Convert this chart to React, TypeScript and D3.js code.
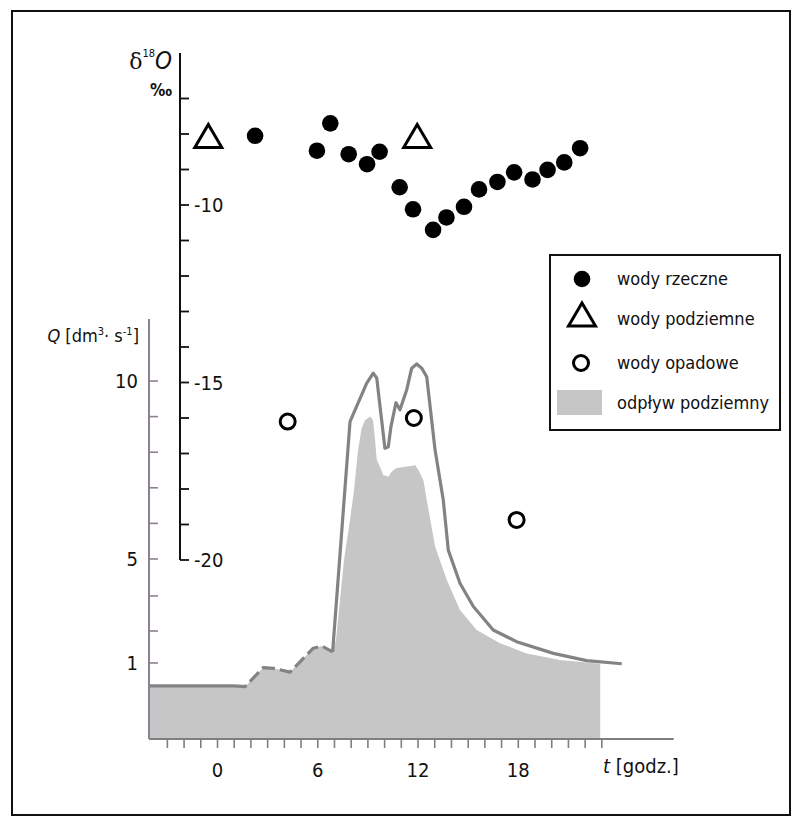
import React from "react"
import * as d3 from "d3"

// delta 18O samples (t in hours, value in permil)
const riverT = [2.25, 5.95, 6.75, 7.85, 8.95, 9.7, 10.9, 11.7, 12.9, 13.7, 14.75, 15.65, 16.75, 17.75, 18.85, 19.75, 20.75, 21.7]
const riverD = [-8.05, -8.47, -7.7, -8.57, -8.85, -8.5, -9.5, -10.12, -10.7, -10.35, -10.05, -9.56, -9.35, -9.08, -9.28, -9.01, -8.8, -8.4]
const groundT = [-0.55, 11.95]
const groundD = [-8.07, -8.07]
const rainT = [4.2, 11.75, 17.9]
const rainD = [-16.1, -16.0, -18.87]

// total discharge Q [dm3/s]
const totalT = [-4.1, 0.99, 1.65, 2.74, 3.34, 4.34, 5.73, 6.24, 6.89, 7.93, 8.93, 9.32, 9.53, 9.68, 10.02, 10.22, 10.38, 10.68, 10.92, 11.32, 11.62, 11.92, 12.22, 12.52, 13.02, 13.51, 13.81, 14.51, 15.31, 16.5, 17.9, 20.1, 22.09, 24.19]
const totalQ = [0.7, 0.7, 0.69, 0.94, 0.93, 0.88, 1.57, 1.65, 1.43, 8.86, 9.94, 10.22, 10.08, 9.47, 8.11, 8.15, 8.72, 9.39, 9.19, 9.75, 10.36, 10.48, 10.36, 10.12, 8.06, 6.66, 5.25, 4.07, 3.17, 2.27, 1.82, 1.37, 1.09, 0.99]

// groundwater runoff (shaded)
const baseT = [-4.1, 0.99, 1.65, 2.74, 3.34, 4.34, 5.73, 6.24, 6.89, 7.09, 7.57, 7.93, 8.17, 8.41, 8.63, 8.83, 9.13, 9.31, 9.43, 9.53, 9.72, 9.92, 10.22, 10.42, 10.68, 11.22, 11.62, 11.82, 12.02, 12.32, 12.52, 13.02, 13.72, 14.51, 15.51, 16.91, 18.5, 20.5, 22.9, 22.9]
const baseQ = [0.7, 0.7, 0.69, 0.94, 0.93, 0.88, 1.57, 1.65, 1.43, 1.88, 4.96, 6.1, 6.94, 8.06, 8.68, 8.9, 9.0, 8.9, 8.34, 7.78, 7.59, 7.36, 7.31, 7.45, 7.55, 7.59, 7.61, 7.64, 7.5, 7.22, 6.66, 5.35, 4.19, 3.04, 2.27, 1.76, 1.37, 1.12, 0.99, 0]

const tTicks = d3.range(-3, 24)
const tLabels = [0, 6, 12, 18]
const dTicks = d3.range(-7, -21, -1)
const dLabels = [-10, -15, -20]
const qTicks = [1, 2.23, 3.58, 5, 6, 7, 8, 9, 10]
const qLabels = [1, 5, 10]

const legendItems = ["wody rzeczne", "wody podziemne", "wody opadowe", "odpływ podziemny"]

const FONT = "'Liberation Sans Narrow', 'DejaVu Sans Condensed', 'Arial Narrow', sans-serif"
const AXIS_GRAY = "#7f7f7f"
const Q_GRAY = "#8b8090"
const LINE_GRAY = "#838383"

export default function App() {
  const x = d3.scaleLinear().domain([0, 18]).range([217.5, 518.3])
  const yD = d3.scaleLinear().domain([-10, -20]).range([205, 560])
  const yQ = d3.scaleLinear().domain([0, 1, 5, 10]).range([739, 663, 559, 381])

  const total = totalT.map((t, i) => [t, totalQ[i]] as [number, number])
  const base = baseT.map((t, i) => [t, baseQ[i]] as [number, number])

  const line = d3
    .line<[number, number]>()
    .x(d => x(d[0]))
    .y(d => yQ(d[1]))
  const area = d3
    .area<[number, number]>()
    .x(d => x(d[0]))
    .y0(yQ(0))
    .y1(d => yQ(d[1]))

  const tri = (cx: number, cy: number) =>
    `M${cx},${cy - 12} L${cx + 13.5},${cy + 11} L${cx - 13.5},${cy + 11} Z`

  const x0 = x(-4.1)
  const tEnd = x(27.3)

  return (
    <div style={{ position: "absolute", left: 0, top: 0 }}>
      <svg width={794} height={823} style={{ display: "block", background: "#fff" }} fontFamily={FONT}>
        {/* frame */}
        <rect x={12} y={11} width={778} height={804} fill="none" stroke="#111" strokeWidth={2} />

        {/* groundwater runoff */}
        <path d={area(base) ?? ""} fill="#c6c6c6" />

        {/* total discharge */}
        <g fill="none" stroke={LINE_GRAY} strokeWidth={3.2} strokeLinejoin="round" strokeLinecap="butt">
          <path d={line(total.slice(0, 2)) ?? ""} />
          <path d={line(total.slice(1, 9)) ?? ""} strokeDasharray="13 5" />
          <path d={line(total.slice(8)) ?? ""} />
        </g>

        {/* t axis */}
        <line x1={x0} x2={tEnd} y1={yQ(0)} y2={yQ(0)} stroke={AXIS_GRAY} strokeWidth={2} />
        {tTicks.map(t => (
          <line key={t} x1={x(t)} x2={x(t)} y1={yQ(0)} y2={yQ(0) + 9} stroke={AXIS_GRAY} strokeWidth={1.6} />
        ))}
        {tLabels.map(t => (
          <text key={t} x={x(t)} y={777} textAnchor="middle" fontSize={20} fill="#111">
            {t}
          </text>
        ))}
        <text x={603} y={773} fontSize={20} fill="#111">
          <tspan fontStyle="italic">t</tspan> [godz.]
        </text>

        {/* Q axis */}
        <line x1={x0} x2={x0} y1={yQ(0)} y2={yQ(11.74)} stroke={Q_GRAY} strokeWidth={2} />
        {qTicks.map(q => (
          <line key={q} x1={x0} x2={x0 + 9} y1={yQ(q)} y2={yQ(q)} stroke={Q_GRAY} strokeWidth={1.6} />
        ))}
        {qLabels.map(q => (
          <text key={q} x={138} y={yQ(q) + 7} textAnchor="end" fontSize={20} fill="#111">
            {q}
          </text>
        ))}
        <text x={139} y={342} textAnchor="end" fontSize={18} fill="#111">
          <tspan fontStyle="italic">Q</tspan> [dm
          <tspan fontSize={11} dy={-7}>3</tspan>
          <tspan dy={7}>·</tspan> s
          <tspan fontSize={11} dy={-7}>-1</tspan>
          <tspan dy={7}>]</tspan>
        </text>

        {/* delta 18O axis */}
        <line x1={180} x2={180} y1={yD(-5.72)} y2={yD(-20)} stroke="#111" strokeWidth={2} />
        {dTicks.map(v => (
          <line key={v} x1={180} x2={189} y1={yD(v)} y2={yD(v)} stroke="#111" strokeWidth={1.8} />
        ))}
        {dLabels.map(v => (
          <text key={v} x={194} y={yD(v) + 7} fontSize={20} fill="#111">
            {`-${Math.abs(v)}`}
          </text>
        ))}
        <text x={172} y={69} textAnchor="end" fontSize={24} fill="#111">
          <tspan fontFamily="'DejaVu Serif', serif" fontSize={22}>δ</tspan>
          <tspan fontSize={11} dy={-12}>18</tspan>
          <tspan fontStyle="italic" dy={12}>O</tspan>
        </text>
        <text x={172} y={96} textAnchor="end" fontSize={17} fontWeight="bold" fill="#111">
          ‰
        </text>

        {/* samples */}
        {riverT.map((t, i) => (
          <circle key={i} cx={x(t)} cy={yD(riverD[i])} r={8.3} fill="#000" />
        ))}
        {groundT.map((t, i) => (
          <path key={i} d={tri(x(t), yD(groundD[i]))} fill="none" stroke="#000" strokeWidth={3} strokeLinejoin="miter" />
        ))}
        {rainT.map((t, i) => (
          <circle key={i} cx={x(t)} cy={yD(rainD[i])} r={7.5} fill="none" stroke="#000" strokeWidth={3} />
        ))}

        {/* legend */}
        <rect x={550} y={255} width={230} height={175} fill="#fff" stroke="#111" strokeWidth={2} />
        <circle cx={582} cy={279} r={8.3} fill="#000" />
        <path d={tri(582, 315)} fill="none" stroke="#000" strokeWidth={3} />
        <circle cx={581} cy={363} r={7.5} fill="none" stroke="#000" strokeWidth={3} />
        <rect x={557} y={390} width={45} height={25} fill="#c6c6c6" />
        {legendItems.map((s, i) => (
          <text key={s} x={617} y={[285, 325, 369, 409][i]} fontSize={18} fill="#111">
            {s}
          </text>
        ))}
      </svg>
    </div>
  )
}
